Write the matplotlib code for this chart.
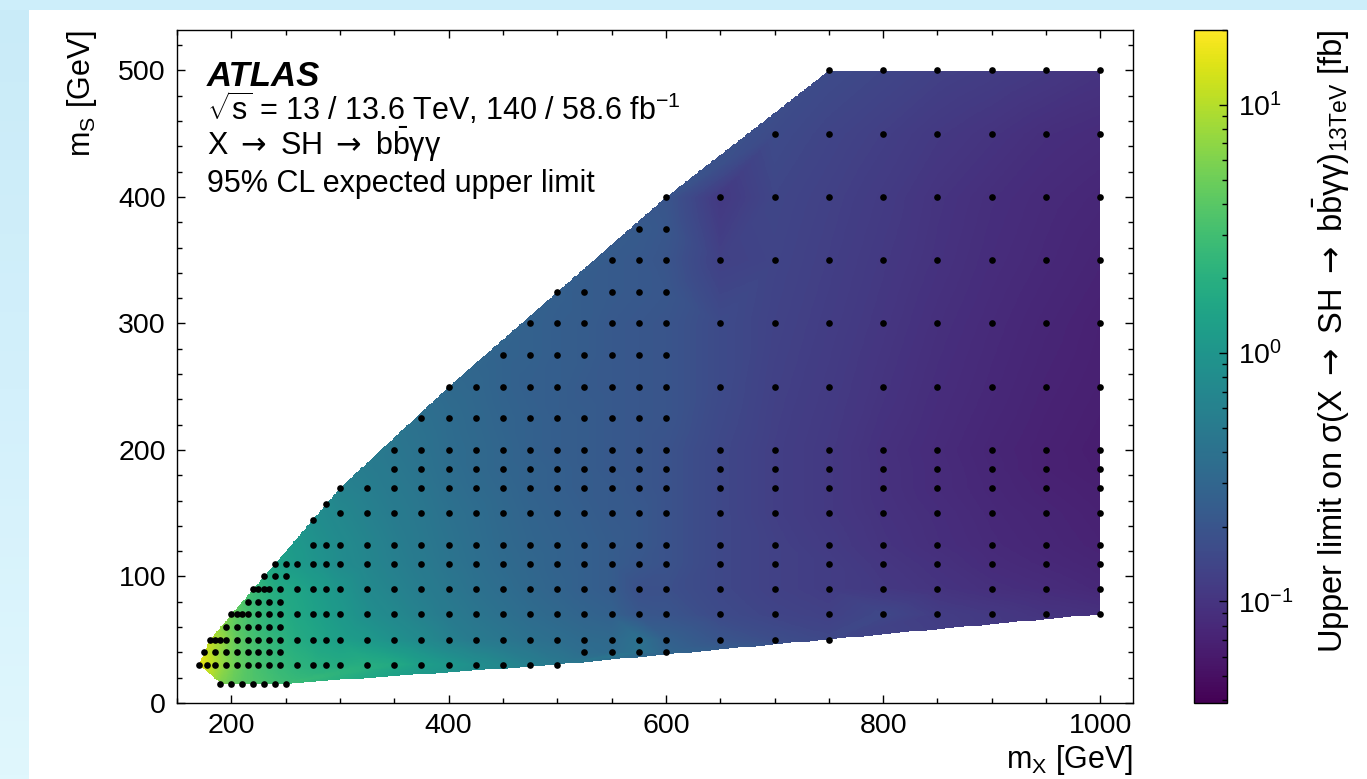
import numpy as np
import matplotlib
matplotlib.use("Agg")
import matplotlib.pyplot as plt
import matplotlib.tri as mtri
from matplotlib.colors import LogNorm
from matplotlib.ticker import MultipleLocator, LogLocator
from matplotlib.patches import Rectangle

plt.rcParams['font.family'] = ['Liberation Sans', 'DejaVu Sans']
plt.rcParams['mathtext.fontset'] = 'custom'
plt.rcParams['mathtext.rm'] = 'Liberation Sans'
plt.rcParams['mathtext.it'] = 'Liberation Sans:italic'
plt.rcParams['mathtext.bf'] = 'Liberation Sans:bold'
plt.rcParams['mathtext.sf'] = 'DejaVu Sans'

# ---------------- data: rows of constant m_S ----------------
MS15_X = [190, 200, 210, 220, 230, 240, 250]
MS15_V = [6.0, 4.8, 4.0, 3.6, 3.3, 3.0, 2.8]

MS30_X = [170, 177.5, 185, 195, 205, 215, 225, 235, 245, 260, 275, 287.5, 300, 325, 350, 375, 400, 425, 450, 475, 500]
MS30_V = [17, 13, 9.5, 6.5, 4.8, 3.8, 3.2, 2.8, 2.5, 2.2, 2.0, 1.9, 1.8, 1.9, 1.7, 1.3, 1.05, 0.85, 0.7, 0.58, 0.48]

MS40_X = [175, 185, 195, 205, 215, 225, 235, 245, 525, 550, 575, 600]
MS40_V = [13, 9.0, 6.0, 4.5, 3.6, 3.0, 2.6, 2.3, 0.36, 0.34, 0.42, 0.3]

MS50_X = [180, 185, 190, 195, 205, 215, 225, 235, 245, 260, 275, 287.5, 300, 325, 350, 375, 400, 425, 450, 475, 500, 525, 550, 575, 600, 650, 700, 750]
MS50_V = [11, 9.5, 8.0, 6.5, 4.5, 3.5, 2.9, 2.5, 2.2, 1.8, 1.6, 1.4, 1.3, 1.1, 0.9, 0.75, 0.6, 0.5, 0.45, 0.4, 0.37, 0.34, 0.33, 0.4, 0.27, 0.2, 0.17, 0.15]

MS60_X = [195, 205, 215, 225, 235, 245]
MS60_V = [5.5, 4.0, 3.2, 2.6, 2.2, 2.0]

MS70_X = [200, 205, 210, 215, 225, 235, 245, 260, 275, 287.5, 300, 325, 350, 375, 400, 425, 450, 475, 500, 525, 550, 575, 600, 650, 700, 750, 800, 850, 900, 950, 1000]
MS70_V = [5.0, 4.2, 3.6, 3.2, 2.6, 2.2, 1.9, 1.6, 1.4, 1.25, 1.1, 0.85, 0.72, 0.6, 0.5, 0.44, 0.39, 0.35, 0.32, 0.29, 0.27, 0.21, 0.2, 0.16, 0.14, 0.13, 0.15, 0.12, 0.11, 0.1, 0.095]

MS80_X = [215, 225, 235, 245]
MS80_V = [3.0, 2.4, 2.0, 1.8]

MS90_X = [220, 225, 230, 235, 245, 260, 275, 287.5, 300, 325, 350, 375, 400, 425, 450, 475, 500, 525, 550, 575, 600, 650, 700, 750, 800, 850, 900, 950, 1000]
MS90_V = [2.8, 2.5, 2.2, 2.0, 1.7, 1.5, 1.3, 1.15, 1.0, 0.75, 0.63, 0.54, 0.46, 0.4, 0.36, 0.32, 0.29, 0.26, 0.24, 0.18, 0.18, 0.15, 0.13, 0.12, 0.11, 0.1, 0.092, 0.086, 0.08]

MS100_X = [230, 240, 250]
MS100_V = [1.9, 1.6, 1.4]

MS110_X = [240, 250, 260, 275, 287.5, 300, 325, 350, 375, 400, 425, 450, 475, 500, 525, 550, 575, 600, 650, 700, 750, 800, 850, 900, 950, 1000]
MS110_V = [1.5, 1.3, 1.15, 1.0, 0.9, 0.8, 0.68, 0.58, 0.5, 0.43, 0.38, 0.34, 0.31, 0.28, 0.26, 0.24, 0.21, 0.19, 0.15, 0.13, 0.12, 0.105, 0.095, 0.085, 0.08, 0.075]

MS125_X = [275, 287.5, 300, 325, 350, 375, 400, 425, 450, 475, 500, 525, 550, 575, 600, 650, 700, 750, 800, 850, 900, 950, 1000]
MS125_V = [0.95, 0.85, 0.78, 0.66, 0.56, 0.48, 0.42, 0.37, 0.33, 0.3, 0.28, 0.26, 0.24, 0.22, 0.19, 0.15, 0.13, 0.115, 0.1, 0.09, 0.082, 0.077, 0.072]

MS145_X = [275]
MS145_V = [0.85]

MS150_X = [300, 325, 350, 375, 400, 425, 450, 475, 500, 525, 550, 575, 600, 650, 700, 750, 800, 850, 900, 950, 1000]
MS150_V = [0.7, 0.6, 0.52, 0.46, 0.4, 0.36, 0.32, 0.29, 0.27, 0.25, 0.23, 0.22, 0.19, 0.15, 0.125, 0.11, 0.097, 0.088, 0.08, 0.075, 0.07]

MS157_X = [287.5]
MS157_V = [0.75]

MS170_X = [300, 325, 350, 375, 400, 425, 450, 475, 500, 525, 550, 575, 600, 650, 700, 750, 800, 850, 900, 950, 1000]
MS170_V = [0.62, 0.56, 0.49, 0.44, 0.38, 0.34, 0.31, 0.28, 0.26, 0.24, 0.23, 0.21, 0.19, 0.15, 0.125, 0.11, 0.095, 0.085, 0.078, 0.072, 0.068]

MS185_X = [350, 375, 400, 425, 450, 475, 500, 525, 550, 575, 600, 650, 700, 750, 800, 850, 900, 950, 1000]
MS185_V = [0.47, 0.42, 0.37, 0.33, 0.3, 0.28, 0.26, 0.24, 0.22, 0.21, 0.19, 0.15, 0.125, 0.11, 0.095, 0.085, 0.077, 0.07, 0.066]

MS200_X = [350, 375, 400, 425, 450, 475, 500, 525, 550, 575, 600, 650, 700, 750, 800, 850, 900, 950, 1000]
MS200_V = [0.45, 0.41, 0.36, 0.33, 0.3, 0.27, 0.25, 0.24, 0.22, 0.21, 0.19, 0.15, 0.125, 0.11, 0.094, 0.084, 0.076, 0.07, 0.065]

MS225_X = [375, 400, 425, 450, 475, 500, 525, 550, 575, 600]
MS225_V = [0.39, 0.35, 0.32, 0.29, 0.27, 0.25, 0.24, 0.22, 0.21, 0.2]

MS250_X = [400, 425, 450, 475, 500, 525, 550, 575, 600, 650, 700, 750, 800, 850, 900, 950, 1000]
MS250_V = [0.33, 0.31, 0.28, 0.26, 0.25, 0.23, 0.22, 0.21, 0.2, 0.16, 0.13, 0.115, 0.1, 0.088, 0.08, 0.073, 0.068]

MS275_X = [450, 475, 500, 525, 550, 575, 600]
MS275_V = [0.28, 0.27, 0.25, 0.24, 0.22, 0.21, 0.2]

MS300_X = [475, 500, 525, 550, 575, 600, 650, 700, 750, 800, 850, 900, 950, 1000]
MS300_V = [0.27, 0.25, 0.24, 0.22, 0.21, 0.2, 0.16, 0.135, 0.12, 0.105, 0.092, 0.083, 0.076, 0.07]

MS325_X = [500, 525, 550, 575, 600]
MS325_V = [0.26, 0.24, 0.23, 0.22, 0.21]

MS350_X = [550, 575, 600, 650, 700, 750, 800, 850, 900, 950, 1000]
MS350_V = [0.23, 0.22, 0.2, 0.13, 0.14, 0.125, 0.11, 0.097, 0.087, 0.08, 0.074]

MS375_X = [575, 600]
MS375_V = [0.23, 0.21]

MS400_X = [600, 650, 700, 750, 800, 850, 900, 950, 1000]
MS400_V = [0.2, 0.11, 0.145, 0.13, 0.115, 0.1, 0.09, 0.083, 0.078]

MS450_X = [700, 750, 800, 850, 900, 950, 1000]
MS450_V = [0.16, 0.14, 0.125, 0.11, 0.1, 0.09, 0.085]

MS500_X = [750, 800, 850, 900, 950, 1000]
MS500_V = [0.16, 0.145, 0.13, 0.12, 0.11, 0.1]

ROWS = [
    (15, MS15_X, MS15_V), (30, MS30_X, MS30_V), (40, MS40_X, MS40_V),
    (50, MS50_X, MS50_V), (60, MS60_X, MS60_V), (70, MS70_X, MS70_V),
    (80, MS80_X, MS80_V), (90, MS90_X, MS90_V), (100, MS100_X, MS100_V),
    (110, MS110_X, MS110_V), (125, MS125_X, MS125_V), (145, MS145_X, MS145_V),
    (150, MS150_X, MS150_V), (157, MS157_X, MS157_V), (170, MS170_X, MS170_V),
    (185, MS185_X, MS185_V), (200, MS200_X, MS200_V), (225, MS225_X, MS225_V),
    (250, MS250_X, MS250_V), (275, MS275_X, MS275_V), (300, MS300_X, MS300_V),
    (325, MS325_X, MS325_V), (350, MS350_X, MS350_V), (375, MS375_X, MS375_V),
    (400, MS400_X, MS400_V), (450, MS450_X, MS450_V), (500, MS500_X, MS500_V),
]

mx, ms, lim = [], [], []
for s, xs, vs in ROWS:
    assert len(xs) == len(vs)
    mx += list(xs)
    ms += [s] * len(xs)
    lim += list(vs)
mx = np.array(mx, float)
ms = np.array(ms, float)
lim = np.array(lim, float)

VMIN, VMAX = 0.039, 20.0
XLIM = (150, 1030)
YLIM = (0, 532)

# ---------------- figure ----------------
W, H = 1367, 779
fig = plt.figure(figsize=(W / 100, H / 100), dpi=100)
fig.patch.set_facecolor('white')

# light-blue page background strips (left and top)
bg = fig.add_axes([0, 0, 1, 1], zorder=-10)
bg.axis('off')
grad = np.linspace(0, 1, 200).reshape(-1, 1)
bg.imshow(grad, extent=(0, 29, H, 0), cmap=matplotlib.colors.LinearSegmentedColormap.from_list(
    'bgc', ['#c9ebf8', '#d3f0fb', '#e0f7fd']), aspect='auto')
bg.add_patch(Rectangle((0, 0), W, 10, color='#cdeefa', lw=0))
bg.set_xlim(0, W)
bg.set_ylim(H, 0)

ax = fig.add_axes([177 / W, (H - 703) / H, 956 / W, 673 / H])
cax = fig.add_axes([1194 / W, (H - 703) / H, 33 / W, 673 / H])

# interpolate the limits (in log) on the Delaunay triangulation of the grid
tri = mtri.Triangulation(mx, ms)
interp = mtri.LinearTriInterpolator(tri, np.log10(lim))
gx = np.linspace(XLIM[0], XLIM[1], 1100)
gy = np.linspace(YLIM[0], YLIM[1], 800)
GX, GY = np.meshgrid(gx, gy)
Z = interp(GX, GY)
Z = np.ma.masked_invalid(np.ma.power(10.0, Z))

im = ax.imshow(Z, origin='lower', extent=(XLIM[0], XLIM[1], YLIM[0], YLIM[1]),
               cmap='viridis', norm=LogNorm(vmin=VMIN, vmax=VMAX),
               aspect='auto', interpolation='nearest', zorder=1)

ax.plot(mx, ms, 'o', color='black', markersize=4.8, markeredgewidth=0, zorder=3)

ax.set_xlim(*XLIM)
ax.set_ylim(*YLIM)
ax.xaxis.set_major_locator(MultipleLocator(200))
ax.xaxis.set_minor_locator(MultipleLocator(50))
ax.yaxis.set_major_locator(MultipleLocator(100))
ax.yaxis.set_minor_locator(MultipleLocator(20))
ax.tick_params(which='both', direction='in', top=True, right=True,
               labelsize=20.5, width=1.0)
ax.tick_params(which='major', length=6)
ax.tick_params(which='minor', length=3.3)
ax.tick_params(axis='x', pad=7)
ax.tick_params(axis='y', pad=8)
for sp in ax.spines.values():
    sp.set_linewidth(1.0)

ax.set_xlabel(r'm$_{\mathrm{X}}$ [GeV]', fontsize=22, loc='right', labelpad=3)
ax.set_ylabel(r'm$_{\mathrm{S}}$ [GeV]', fontsize=22, loc='top', labelpad=14)

ARROW = r'$\mathsf{\rightarrow}$'

# labels
tx = 0.0314
ax.text(tx, 0.9165, 'ATLAS', fontsize=25, fontweight='bold', fontstyle='italic',
        transform=ax.transAxes, va='baseline', zorder=5)
ax.text(tx, 0.8660, r'$\sqrt{\mathrm{s}}$ = 13 / 13.6 TeV, 140 / 58.6 fb$^{-1}$',
        fontsize=22, transform=ax.transAxes, va='baseline', zorder=5)
ax.text(tx, 0.8143, 'X ' + ARROW + ' SH ' + ARROW + r' b$\bar{\mathrm{b}}$γγ', fontsize=22,
        transform=ax.transAxes, va='baseline', zorder=5)
ax.text(tx, 0.7593, '95% CL expected upper limit', fontsize=22,
        transform=ax.transAxes, va='baseline', zorder=5)

# colorbar
cb = fig.colorbar(im, cax=cax)
cb.outline.set_linewidth(1.0)
cax.yaxis.set_major_locator(LogLocator(base=10))
cax.yaxis.set_minor_locator(LogLocator(base=10, subs=np.arange(2, 10)))
cax.tick_params(which='both', direction='in', right=True, left=False,
                labelsize=20.5, width=1.0, pad=8)
cax.tick_params(which='major', length=6)
cax.tick_params(which='minor', length=3.3)
cb.set_label('Upper limit on σ(X ' + ARROW + ' SH ' + ARROW +
             r' b$\bar{\mathrm{b}}$γγ)$_{\mathrm{13TeV}}$ [fb]',
             fontsize=23.5, loc='top', labelpad=12)

fig.savefig('out.png', dpi=100, facecolor=fig.get_facecolor())
